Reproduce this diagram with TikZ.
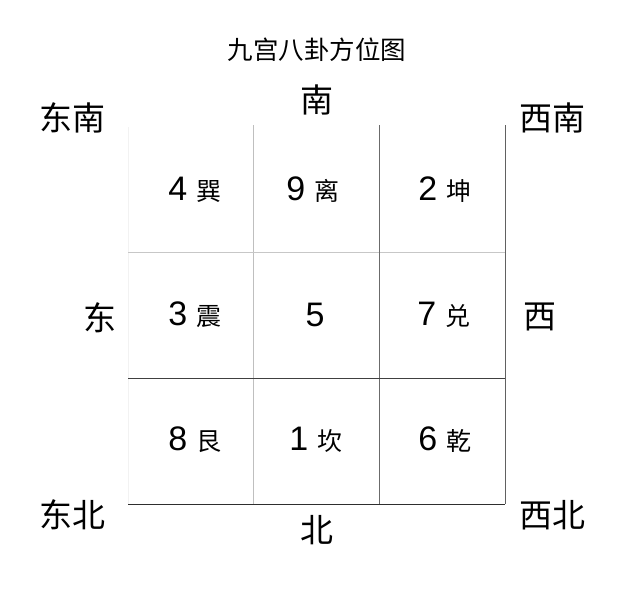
\documentclass[tikz,border=0pt]{standalone}
\usepackage{fontspec}
\setmainfont{Liberation Sans}
\newfontfamily\cjk{Noto Sans CJK SC}
\newcommand\guafont{\cjk\fontsize{25}{28}\selectfont}
\begin{document}
\begin{tikzpicture}[x=1pt,y=-1pt,
  dir/.style={font=\cjk\fontsize{33}{36}\selectfont, inner sep=0pt},
  ttl/.style={font=\cjk\fontsize{25.5}{28}\selectfont, inner sep=0pt},
  cell/.style={inner sep=0pt, font=\fontsize{34}{36}\selectfont}]
\useasboundingbox (0,0) rectangle (636,605);
\fill[white] (0,0) rectangle (636,605);
% grid coordinates
\coordinate (v1t) at (128,127); \coordinate (v1b) at (128,504);
\coordinate (v2t) at (253,125); \coordinate (v2b) at (253,504);
\coordinate (v3t) at (379,125); \coordinate (v3b) at (379,504);
\coordinate (v4t) at (505,125); \coordinate (v4b) at (505,504);
\coordinate (h1l) at (128,252); \coordinate (h1r) at (505,252);
\coordinate (h2l) at (128,378); \coordinate (h2r) at (505,378);
\coordinate (h3l) at (128,504); \coordinate (h3r) at (505,504);
\draw[line width=1pt, color=black!5] (v1t) -- (v1b);
\draw[line width=1pt, color=black!25] (v2t) -- (v2b);
\draw[line width=1pt, color=black!22] (h1l) -- (h1r);
\draw[line width=1pt, color=black!58] (v3t) -- (v3b);
\draw[line width=1pt, color=black!62] (v4t) -- (v4b);
\draw[line width=1pt, color=black!75] (h2l) -- (h2r);
\draw[line width=1pt, color=black!82] (h3l) -- (h3r);
% title and directions
\node[ttl] (title) at (317,50) {九宫八卦方位图};
\node[dir] (S) at (317,100) {南};
\node[dir] (SE) at (72,118) {东南};
\node[dir] (SW) at (552,118) {西南};
\node[dir] (E) at (100,318) {东};
\node[dir] (W) at (540,317) {西};
\node[dir] (NE) at (72,515) {东北};
\node[dir] (NW) at (552,515) {西北};
\node[dir] (N) at (317,530) {北};
% cells
\node[cell] (c4) at (195,190) {4 {\guafont 巽}};
\node[cell] (c9) at (313,190) {9 {\guafont 离}};
\node[cell] (c2) at (445,190) {2 {\guafont 坤}};
\node[cell] (c3) at (195,315) {3 {\guafont 震}};
\node[cell] (c5) at (315,315) {5};
\node[cell] (c7) at (444,315) {7 {\guafont 兑}};
\node[cell] (c8) at (195,440) {8 {\guafont 艮}};
\node[cell] (c1) at (316,440) {1 {\guafont 坎}};
\node[cell] (c6) at (445,440) {6 {\guafont 乾}};
\end{tikzpicture}
\end{document}
